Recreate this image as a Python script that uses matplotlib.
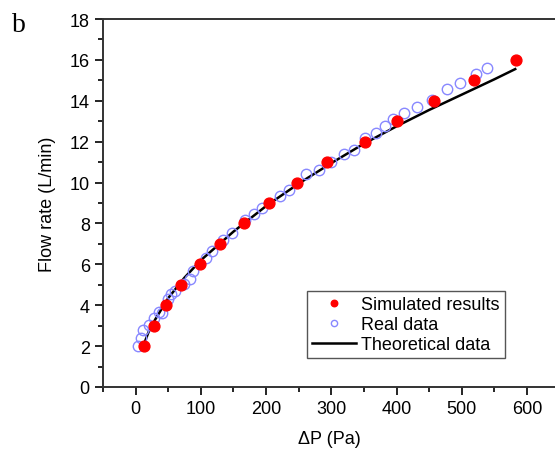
import numpy as np
from matplotlib import pyplot as plt
from matplotlib.ticker import MultipleLocator

# Simulated results (red dots)
sim_dp = [13, 28, 47, 69, 98, 129, 166, 205, 247, 294, 351, 400, 457, 519, 583]
sim_q = [2, 3, 4, 5, 6, 7, 8, 9, 10, 11, 12, 13, 14, 15, 16]

# Real data (open blue circles)
real_dp = [3, 8, 12, 20, 28, 36, 40, 49, 55, 60, 74, 84, 88, 108, 117, 134, 148,
           167, 181, 194, 222, 235, 261, 281, 299, 320, 335, 351, 368, 382, 395,
           412, 431, 454, 477, 498, 522, 538]
real_q = [2.0, 2.38, 2.79, 3.03, 3.36, 3.65, 3.6, 4.3, 4.55, 4.68, 5.04, 5.3, 5.69,
          6.3, 6.67, 7.2, 7.53, 8.15, 8.46, 8.75, 9.36, 9.63, 10.4, 10.63, 11.0,
          11.4, 11.6, 12.2, 12.4, 12.75, 13.1, 13.4, 13.7, 14.05, 14.6, 14.85,
          15.3, 15.6]

# Theoretical curve
theo_dp = [14, 20, 30, 50, 75, 100, 150, 200, 250, 300, 350, 400, 450, 500, 550, 582]
theo_q = [2.2, 2.7, 3.3, 4.35, 5.35, 6.2, 7.6, 8.85, 9.95, 10.95, 11.9, 12.75,
          13.55, 14.3, 15.05, 15.55]

plt.rcParams['font.family'] = ['Liberation Sans', 'DejaVu Sans']
plt.rcParams['font.size'] = 13

fig = plt.figure(figsize=(5.55, 4.52), dpi=100)
ax = fig.add_axes([103 / 555, 64 / 452, 452 / 555, 368 / 452])

ax.plot(theo_dp, theo_q, color='black', lw=1.8, label='Theoretical data', zorder=2)
ax.plot(real_dp, real_q, 'o', mfc='none', mec='#8888ff', mew=1.0, ms=7.5,
        label='Real data', zorder=3)
ax.plot(sim_dp, sim_q, 'o', color='red', ms=7.8, label='Simulated results', zorder=4)

ax.set_xlim(-50, 643)
ax.set_ylim(0, 18)
ax.xaxis.set_major_locator(MultipleLocator(100))
ax.xaxis.set_minor_locator(MultipleLocator(50))
ax.yaxis.set_major_locator(MultipleLocator(2))
ax.yaxis.set_minor_locator(MultipleLocator(1))
ax.tick_params(which='both', direction='out', top=False, right=False, width=1.2)
ax.tick_params(which='major', length=6)
ax.tick_params(which='minor', length=3.5)
for side in ['left', 'bottom', 'top']:
    ax.spines[side].set_linewidth(1.4)
    ax.spines[side].set_color('#333333')
ax.spines['right'].set_visible(False)

ax.set_xlabel('ΔP (Pa)', labelpad=9)
ax.set_ylabel('Flow rate (L/min)', labelpad=10)

h, l = ax.get_legend_handles_labels()
order = [2, 1, 0]
leg = ax.legend([h[i] for i in order], [l[i] for i in order],
                loc='upper right', bbox_to_anchor=(505 / 555, 1 - 292 / 452),
                bbox_transform=fig.transFigure, borderaxespad=0,
                fancybox=False, edgecolor='#555555',
                framealpha=1, markerscale=0.6, handlelength=2.4,
                labelspacing=0.15, borderpad=0.3, handletextpad=0.3)
leg.get_frame().set_linewidth(1.0)

fig.text(12 / 555, 1 - 32 / 452, 'b', family=['Liberation Serif'], fontsize=20)

fig.savefig('out.png', dpi=100)
